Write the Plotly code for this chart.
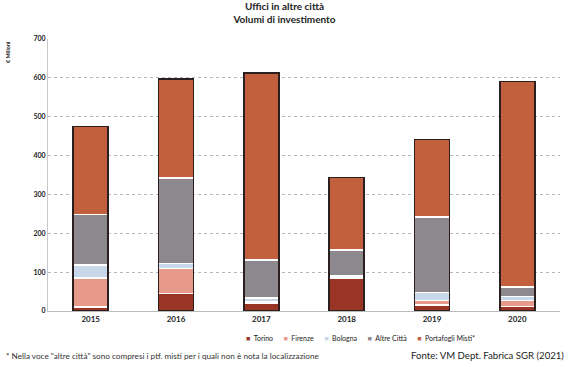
import plotly.graph_objects as go

years = ["2015", "2016", "2017", "2018", "2019", "2020"]
torino = [10, 45, 20, 85, 15, 12]
firenze = [75, 65, 5, 0, 12, 15]
bologna = [33, 12, 8, 5, 20, 10]
altre_citta = [130, 220, 98, 67, 195, 25]
portafogli_misti = [227, 255, 481, 187, 200, 528]
y_ticks = [0, 100, 200, 300, 400, 500, 600, 700]

series = [
    ("Torino", torino, "#9a3526"),
    ("Firenze", firenze, "#e79a8a"),
    ("Bologna", bologna, "#c9d8e8"),
    ("Altre Città", altre_citta, "#8d888d"),
    ("Portafogli Misti*", portafogli_misti, "#c2603e"),
]

fig = go.Figure()
for name, vals, col in series:
    fig.add_trace(go.Bar(
        x=years, y=vals, name=name,
        marker=dict(color=col, line=dict(color="white", width=1.5)),
        width=0.41, showlegend=False,
    ))

# dark outline around each full stack
totals = [sum(v) for v in zip(torino, firenze, bologna, altre_citta, portafogli_misti)]
fig.add_trace(go.Bar(
    x=years, y=totals, xaxis="x2", showlegend=False, hoverinfo="skip",
    marker=dict(color="rgba(0,0,0,0)", line=dict(color="#2a2020", width=1.5)),
    width=0.41,
))

font_family = "Lato, 'Open Sans', sans-serif"
fig.update_layout(
    barmode="stack",
    width=569, height=367,
    margin=dict(l=48, r=9, t=39, b=56),
    paper_bgcolor="white", plot_bgcolor="white",
    font=dict(family=font_family, color="#222"),
    title=dict(
        text="<b>Uffici in altre città</b><br><b>Volumi di investimento</b>",
        x=0.5, xanchor="center", y=0.972, yanchor="top",
        font=dict(size=10, color="#222"),
    ),
    xaxis=dict(
        showgrid=False, showline=True, linecolor="#bbb", linewidth=1,
        tickfont=dict(size=8, color="#222"), ticks="",
        categoryorder="array", categoryarray=years,
        tickvals=years, ticktext=[f"<b>{y}</b>" for y in years],
    ),
    xaxis2=dict(overlaying="x", matches="x", visible=False,
                categoryorder="array", categoryarray=years),
    yaxis=dict(
        range=[0, 700], tickvals=y_ticks,
        ticktext=[f"<b>{t}</b>" for t in y_ticks],
        showgrid=True, gridcolor="#b8b8b8", griddash="dot", gridwidth=1,
        showline=True, linecolor="#c8c8c8", linewidth=1,
        tickfont=dict(size=7, color="#222"), ticks="",
        zeroline=False,
    ),
    showlegend=False,
    bargap=0.5,
)

# compact legend line built from the series names and colours
gap = "\u2003\u2003"
legend_text = gap.join(
    f"<span style='color:{col}'>■</span>\u2002{name}" for name, _, col in series
)
fig.add_annotation(
    text=legend_text, xref="paper", yref="paper",
    x=0.61, y=-0.099, xanchor="center", yanchor="middle", showarrow=False,
    font=dict(size=7, color="#222"),
)

fig.add_annotation(
    text="<b>€ Milioni</b>", textangle=-90, xref="paper", yref="paper",
    x=-0.078, y=1.0, xanchor="center", yanchor="top", showarrow=False,
    font=dict(size=5.5, color="#222"),
)
fig.add_annotation(
    text="* Nella voce \"altre città\" sono compresi i ptf. misti per i quali non è nota la localizzazione",
    xref="paper", yref="paper", x=-0.085, y=-0.165, xanchor="left", yanchor="middle",
    showarrow=False, font=dict(size=8.2, color="#333"),
)
fig.add_annotation(
    text="Fonte: VM Dept. Fabrica SGR (2021)",
    xref="paper", yref="paper", x=1.012, y=-0.165, xanchor="right", yanchor="middle",
    showarrow=False, font=dict(size=9.6, color="#222"),
)

fig.write_html("out.html")
